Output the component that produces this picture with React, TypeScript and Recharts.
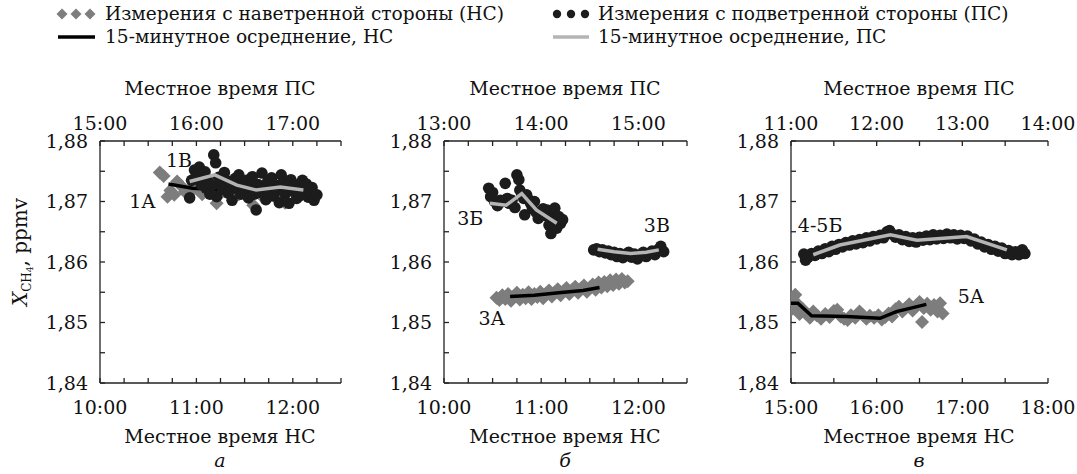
import React from 'react'
import { ScatterChart, Scatter, XAxis, YAxis, ReferenceDot } from 'recharts'

const FONT = '"DejaVu Serif", serif'
const WIND_COLOR = '#7d7d7d'
const LEE_COLOR = '#1c1c1c'
const WIND_AVG_COLOR = '#000000'
const LEE_AVG_COLOR = '#b4b4b4'

// panel a — windward (НС time) and leeward (ПС time = НС + 5 h)
const windA = [
  { t: 10.62, v: 1.8748 }, { t: 10.66, v: 1.8742 }, { t: 10.7, v: 1.8708 }, { t: 10.73, v: 1.8718 },
  { t: 10.77, v: 1.8711 }, { t: 10.8, v: 1.8733 }, { t: 10.84, v: 1.8726 }, { t: 10.88, v: 1.8716 },
  { t: 10.92, v: 1.8712 }, { t: 10.96, v: 1.8724 }, { t: 11.02, v: 1.8719 }, { t: 11.06, v: 1.8712 },
  { t: 11.12, v: 1.8728 }, { t: 11.16, v: 1.873 }, { t: 11.21, v: 1.8697 }, { t: 11.27, v: 1.8716 },
  { t: 11.35, v: 1.8722 }, { t: 11.44, v: 1.8712 }, { t: 11.52, v: 1.8718 }, { t: 11.59, v: 1.8694 },
  { t: 11.66, v: 1.8712 }, { t: 11.74, v: 1.8716 }, { t: 11.82, v: 1.8709 }, { t: 11.87, v: 1.8702 },
  { t: 11.92, v: 1.8698 },
]
const windAvgA = [
  { t: 10.71, v: 1.8729 }, { t: 10.96, v: 1.8722 }, { t: 11.21, v: 1.872 },
  { t: 11.46, v: 1.8717 }, { t: 11.71, v: 1.8715 }, { t: 11.9, v: 1.8713 },
]
const leeA = [
  { t: 15.93, v: 1.8706 }, { t: 15.95, v: 1.8735 }, { t: 15.98, v: 1.8752 }, { t: 16.01, v: 1.8745 },
  { t: 16.03, v: 1.8757 }, { t: 16.05, v: 1.8728 }, { t: 16.07, v: 1.874 }, { t: 16.09, v: 1.8749 },
  { t: 16.1, v: 1.8722 }, { t: 16.12, v: 1.8733 }, { t: 16.14, v: 1.8712 }, { t: 16.16, v: 1.8726 },
  { t: 16.18, v: 1.8777 }, { t: 16.2, v: 1.8764 }, { t: 16.21, v: 1.8708 }, { t: 16.23, v: 1.874 },
  { t: 16.25, v: 1.8731 }, { t: 16.27, v: 1.872 }, { t: 16.29, v: 1.8748 }, { t: 16.31, v: 1.8735 },
  { t: 16.33, v: 1.8714 }, { t: 16.35, v: 1.8727 }, { t: 16.37, v: 1.8702 }, { t: 16.4, v: 1.8738 },
  { t: 16.42, v: 1.8721 }, { t: 16.44, v: 1.8744 }, { t: 16.46, v: 1.8712 }, { t: 16.48, v: 1.8729 },
  { t: 16.5, v: 1.8718 }, { t: 16.52, v: 1.8735 }, { t: 16.54, v: 1.8706 }, { t: 16.56, v: 1.8724 },
  { t: 16.58, v: 1.8741 }, { t: 16.6, v: 1.8712 }, { t: 16.62, v: 1.8686 }, { t: 16.64, v: 1.8728 },
  { t: 16.66, v: 1.8715 }, { t: 16.68, v: 1.8747 }, { t: 16.7, v: 1.8722 }, { t: 16.72, v: 1.8703 },
  { t: 16.74, v: 1.8733 }, { t: 16.76, v: 1.8716 }, { t: 16.78, v: 1.8739 }, { t: 16.8, v: 1.8709 },
  { t: 16.82, v: 1.8727 }, { t: 16.84, v: 1.8719 }, { t: 16.86, v: 1.8698 }, { t: 16.88, v: 1.8744 },
  { t: 16.9, v: 1.8731 }, { t: 16.92, v: 1.8712 }, { t: 16.94, v: 1.8725 }, { t: 16.96, v: 1.8697 },
  { t: 16.98, v: 1.8736 }, { t: 17.0, v: 1.8717 }, { t: 17.02, v: 1.8728 }, { t: 17.04, v: 1.8705 },
  { t: 17.06, v: 1.8722 }, { t: 17.08, v: 1.871 }, { t: 17.1, v: 1.8735 }, { t: 17.12, v: 1.8718 },
  { t: 17.14, v: 1.8729 }, { t: 17.16, v: 1.8707 }, { t: 17.18, v: 1.8716 }, { t: 17.2, v: 1.8723 },
  { t: 17.22, v: 1.8702 }, { t: 17.25, v: 1.8711 },
]
const leeAvgA = [
  { t: 15.93, v: 1.8733 }, { t: 16.19, v: 1.8744 }, { t: 16.42, v: 1.8727 },
  { t: 16.62, v: 1.8719 }, { t: 16.87, v: 1.8724 }, { t: 17.11, v: 1.8719 },
]

// panel б — ПС time = НС + 3 h
const windB = [
  { t: 10.54, v: 1.8541 }, { t: 10.57, v: 1.8537 }, { t: 10.6, v: 1.8545 }, { t: 10.63, v: 1.8539 },
  { t: 10.66, v: 1.8547 }, { t: 10.69, v: 1.8536 }, { t: 10.72, v: 1.8543 }, { t: 10.75, v: 1.8549 },
  { t: 10.78, v: 1.8538 }, { t: 10.81, v: 1.8546 }, { t: 10.84, v: 1.854 }, { t: 10.87, v: 1.855 },
  { t: 10.9, v: 1.8539 }, { t: 10.93, v: 1.8547 }, { t: 10.96, v: 1.8542 }, { t: 10.99, v: 1.8551 },
  { t: 11.02, v: 1.854 }, { t: 11.05, v: 1.8548 }, { t: 11.08, v: 1.8553 }, { t: 11.11, v: 1.8543 },
  { t: 11.14, v: 1.855 }, { t: 11.17, v: 1.8555 }, { t: 11.2, v: 1.8545 }, { t: 11.23, v: 1.8552 },
  { t: 11.26, v: 1.8557 }, { t: 11.29, v: 1.8547 }, { t: 11.32, v: 1.8554 }, { t: 11.35, v: 1.8559 },
  { t: 11.38, v: 1.8549 }, { t: 11.41, v: 1.8556 }, { t: 11.44, v: 1.8561 }, { t: 11.47, v: 1.8551 },
  { t: 11.5, v: 1.8558 }, { t: 11.53, v: 1.8563 }, { t: 11.56, v: 1.8554 }, { t: 11.59, v: 1.8566 },
  { t: 11.62, v: 1.8558 }, { t: 11.65, v: 1.8567 }, { t: 11.68, v: 1.856 }, { t: 11.71, v: 1.857 },
  { t: 11.74, v: 1.8562 }, { t: 11.77, v: 1.8571 }, { t: 11.8, v: 1.8564 }, { t: 11.83, v: 1.8572 },
  { t: 11.86, v: 1.8566 }, { t: 11.89, v: 1.8568 },
]
const windAvgB = [
  { t: 10.68, v: 1.8543 }, { t: 10.93, v: 1.8545 }, { t: 11.18, v: 1.8549 },
  { t: 11.43, v: 1.8553 }, { t: 11.6, v: 1.8558 },
]
const leeB = [
  { t: 13.46, v: 1.8722 }, { t: 13.48, v: 1.8708 }, { t: 13.5, v: 1.8715 }, { t: 13.52, v: 1.87 },
  { t: 13.55, v: 1.8693 }, { t: 13.58, v: 1.8702 }, { t: 13.61, v: 1.87 }, { t: 13.63, v: 1.873 },
  { t: 13.65, v: 1.8705 }, { t: 13.67, v: 1.8697 }, { t: 13.7, v: 1.8702 }, { t: 13.73, v: 1.869 },
  { t: 13.75, v: 1.8744 }, { t: 13.77, v: 1.8736 }, { t: 13.78, v: 1.8719 }, { t: 13.8, v: 1.8712 },
  { t: 13.82, v: 1.8705 }, { t: 13.83, v: 1.8678 }, { t: 13.85, v: 1.8711 }, { t: 13.87, v: 1.8703 },
  { t: 13.89, v: 1.8697 }, { t: 13.91, v: 1.8688 }, { t: 13.93, v: 1.87 }, { t: 13.95, v: 1.8682 },
  { t: 13.97, v: 1.8672 }, { t: 14.0, v: 1.868 }, { t: 14.02, v: 1.8688 }, { t: 14.04, v: 1.8677 },
  { t: 14.06, v: 1.8686 }, { t: 14.08, v: 1.8661 }, { t: 14.1, v: 1.8647 }, { t: 14.12, v: 1.8675 },
  { t: 14.14, v: 1.8689 }, { t: 14.16, v: 1.8656 }, { t: 14.18, v: 1.8675 }, { t: 14.2, v: 1.8664 },
  { t: 14.22, v: 1.867 },
  { t: 14.54, v: 1.862 }, { t: 14.57, v: 1.8622 }, { t: 14.6, v: 1.8617 }, { t: 14.63, v: 1.862 },
  { t: 14.66, v: 1.8615 }, { t: 14.69, v: 1.8618 }, { t: 14.72, v: 1.8612 }, { t: 14.75, v: 1.8616 },
  { t: 14.78, v: 1.8609 }, { t: 14.81, v: 1.8614 }, { t: 14.84, v: 1.8607 }, { t: 14.87, v: 1.8612 },
  { t: 14.9, v: 1.8616 }, { t: 14.93, v: 1.8608 }, { t: 14.96, v: 1.8613 }, { t: 14.99, v: 1.8605 },
  { t: 15.02, v: 1.8611 }, { t: 15.05, v: 1.8616 }, { t: 15.08, v: 1.8609 }, { t: 15.11, v: 1.8614 },
  { t: 15.14, v: 1.8618 }, { t: 15.17, v: 1.8612 }, { t: 15.2, v: 1.862 }, { t: 15.23, v: 1.8626 },
  { t: 15.26, v: 1.8617 },
]
const leeAvgB1 = [
  { t: 13.47, v: 1.8697 }, { t: 13.64, v: 1.8694 }, { t: 13.8, v: 1.8713 },
  { t: 13.95, v: 1.8686 }, { t: 14.16, v: 1.8664 },
]
const leeAvgB2 = [
  { t: 14.58, v: 1.8621 }, { t: 14.75, v: 1.8617 }, { t: 14.92, v: 1.8614 },
  { t: 15.08, v: 1.8616 }, { t: 15.21, v: 1.862 },
]

// panel в — ПС time = НС − 4 h
const windC = [
  { t: 15.0, v: 1.8521 }, { t: 15.02, v: 1.8541 }, { t: 15.05, v: 1.8546 }, { t: 15.08, v: 1.853 },
  { t: 15.1, v: 1.8514 }, { t: 15.14, v: 1.8522 }, { t: 15.18, v: 1.8514 }, { t: 15.22, v: 1.8508 },
  { t: 15.26, v: 1.8518 }, { t: 15.3, v: 1.8512 }, { t: 15.35, v: 1.8506 }, { t: 15.4, v: 1.8514 },
  { t: 15.45, v: 1.8509 }, { t: 15.5, v: 1.8519 }, { t: 15.54, v: 1.8521 }, { t: 15.58, v: 1.851 },
  { t: 15.62, v: 1.8506 }, { t: 15.66, v: 1.8504 }, { t: 15.7, v: 1.8512 }, { t: 15.75, v: 1.8508 },
  { t: 15.8, v: 1.8518 }, { t: 15.84, v: 1.8512 }, { t: 15.88, v: 1.8506 }, { t: 15.92, v: 1.8511 },
  { t: 15.97, v: 1.8508 }, { t: 16.02, v: 1.8512 }, { t: 16.06, v: 1.8505 }, { t: 16.1, v: 1.8509 },
  { t: 16.14, v: 1.8515 }, { t: 16.18, v: 1.851 }, { t: 16.22, v: 1.8522 }, { t: 16.26, v: 1.8526 },
  { t: 16.3, v: 1.8518 }, { t: 16.34, v: 1.8524 }, { t: 16.38, v: 1.853 }, { t: 16.42, v: 1.852 },
  { t: 16.46, v: 1.8528 }, { t: 16.5, v: 1.8534 }, { t: 16.53, v: 1.8501 }, { t: 16.55, v: 1.8524 },
  { t: 16.59, v: 1.8531 }, { t: 16.63, v: 1.8521 }, { t: 16.67, v: 1.8529 }, { t: 16.71, v: 1.8518 },
  { t: 16.74, v: 1.8532 }, { t: 16.77, v: 1.8515 },
]
const windAvgC = [
  { t: 15.0, v: 1.8532 }, { t: 15.08, v: 1.8532 }, { t: 15.24, v: 1.8511 }, { t: 15.65, v: 1.851 },
  { t: 16.04, v: 1.8507 }, { t: 16.23, v: 1.8518 }, { t: 16.58, v: 1.853 },
]
const leeC = [
  { t: 11.15, v: 1.8613 }, { t: 11.17, v: 1.8603 }, { t: 11.2, v: 1.8608 }, { t: 11.24, v: 1.8614 },
  { t: 11.28, v: 1.8611 }, { t: 11.32, v: 1.8618 }, { t: 11.36, v: 1.8614 }, { t: 11.4, v: 1.8622 },
  { t: 11.44, v: 1.8617 }, { t: 11.48, v: 1.8626 }, { t: 11.52, v: 1.8621 }, { t: 11.56, v: 1.8629 },
  { t: 11.6, v: 1.8625 }, { t: 11.64, v: 1.8632 }, { t: 11.68, v: 1.8628 }, { t: 11.72, v: 1.8635 },
  { t: 11.76, v: 1.863 }, { t: 11.8, v: 1.8637 }, { t: 11.84, v: 1.8632 }, { t: 11.88, v: 1.864 },
  { t: 11.92, v: 1.8635 }, { t: 11.96, v: 1.8642 }, { t: 12.0, v: 1.8638 }, { t: 12.04, v: 1.8644 },
  { t: 12.08, v: 1.864 }, { t: 12.12, v: 1.865 }, { t: 12.15, v: 1.8652 }, { t: 12.18, v: 1.8646 },
  { t: 12.22, v: 1.8641 }, { t: 12.26, v: 1.8645 }, { t: 12.3, v: 1.8637 }, { t: 12.34, v: 1.8642 },
  { t: 12.38, v: 1.8634 }, { t: 12.42, v: 1.864 }, { t: 12.46, v: 1.8633 }, { t: 12.5, v: 1.8641 },
  { t: 12.54, v: 1.8636 }, { t: 12.58, v: 1.8643 }, { t: 12.62, v: 1.8637 }, { t: 12.66, v: 1.8645 },
  { t: 12.7, v: 1.8638 }, { t: 12.74, v: 1.8644 }, { t: 12.78, v: 1.8639 }, { t: 12.82, v: 1.8646 },
  { t: 12.86, v: 1.864 }, { t: 12.9, v: 1.8645 }, { t: 12.94, v: 1.8638 }, { t: 12.98, v: 1.8644 },
  { t: 13.02, v: 1.8639 }, { t: 13.06, v: 1.8643 }, { t: 13.1, v: 1.8635 }, { t: 13.14, v: 1.8638 },
  { t: 13.18, v: 1.863 }, { t: 13.22, v: 1.8633 }, { t: 13.26, v: 1.8625 }, { t: 13.3, v: 1.8629 },
  { t: 13.34, v: 1.8621 }, { t: 13.38, v: 1.8626 }, { t: 13.42, v: 1.8618 }, { t: 13.46, v: 1.8623 },
  { t: 13.5, v: 1.8614 }, { t: 13.54, v: 1.8619 }, { t: 13.58, v: 1.8612 }, { t: 13.62, v: 1.8617 },
  { t: 13.66, v: 1.8612 }, { t: 13.7, v: 1.862 }, { t: 13.73, v: 1.8614 },
]
const leeAvgC = [
  { t: 11.26, v: 1.8612 }, { t: 11.57, v: 1.8628 }, { t: 12.16, v: 1.8645 },
  { t: 12.47, v: 1.8636 }, { t: 13.05, v: 1.8642 }, { t: 13.52, v: 1.862 },
]

const yTicks = [1.84, 1.845, 1.85, 1.855, 1.86, 1.865, 1.87, 1.875, 1.88]
const ticksNsAB = [10, 10.25, 10.5, 10.75, 11, 11.25, 11.5, 11.75, 12, 12.25, 12.5]
const ticksPsA = [15, 15.25, 15.5, 15.75, 16, 16.25, 16.5, 16.75, 17, 17.25, 17.5]
const ticksPsB = [13, 13.25, 13.5, 13.75, 14, 14.25, 14.5, 14.75, 15, 15.25, 15.5]
const ticksNsC = [15, 15.5, 16, 16.5, 17, 17.5, 18]
const ticksPsC = [11, 11.5, 12, 12.5, 13, 13.5, 14]

const hourLabel = (v: number) => (Number.isInteger(v) ? `${v}:00` : '')
const yLabel = (v: number) =>
  Math.round(v * 1000) % 10 === 0 ? v.toFixed(2).replace('.', ',') : ''

const Diamond = (props: any) => {
  const { cx, cy } = props
  const s = 7
  return <polygon points={`${cx},${cy - s} ${cx + s},${cy} ${cx},${cy + s} ${cx - s},${cy}`} fill={WIND_COLOR} />
}
const Dot = (props: any) => <circle cx={props.cx} cy={props.cy} r={5.8} fill={LEE_COLOR} />
const NoDot = () => <g />

const axisStyle = { stroke: '#222', strokeWidth: 1.3 }
const tickStyle = { fill: '#111', fontSize: 19, fontFamily: FONT }

type Pt = { t: number; v: number }
interface PanelProps {
  left: number
  width: number
  yWidth: number
  right: number
  nsDomain: [number, number]
  psDomain: [number, number]
  nsTicks: number[]
  psTicks: number[]
  wind: Pt[]
  windAvg: Pt[][]
  lee: Pt[]
  leeAvg: Pt[][]
  labels: { t: number; v: number; text: string }[]
}

function Panel(p: PanelProps) {
  return (
    <div style={{ position: 'absolute', left: p.left, top: 70 }}>
      <ScatterChart width={p.width} height={404} margin={{ top: 0, right: p.right, bottom: 0, left: 0 }}>
        <XAxis
          xAxisId="ns" type="number" dataKey="t" domain={p.nsDomain} ticks={p.nsTicks} interval={0}
          tickFormatter={hourLabel} height={91} tickSize={-5} tickMargin={23}
          axisLine={axisStyle} tickLine={axisStyle} tick={tickStyle} allowDataOverflow
        />
        <XAxis
          xAxisId="ps" orientation="top" type="number" dataKey="t" domain={p.psDomain} ticks={p.psTicks}
          interval={0} tickFormatter={hourLabel} height={71} tickSize={-5} tickMargin={16}
          axisLine={axisStyle} tickLine={axisStyle} tick={tickStyle} allowDataOverflow
        />
        <YAxis
          type="number" dataKey="v" domain={[1.84, 1.88]} ticks={yTicks} interval={0} tickFormatter={yLabel}
          width={p.yWidth} tickSize={-5} tickMargin={17} axisLine={axisStyle} tickLine={axisStyle} tick={tickStyle}
        />
        <Scatter xAxisId="ns" data={p.wind} shape={Diamond} isAnimationActive={false} />
        {p.windAvg.map((d, i) => (
          <Scatter key={`wa${i}`} xAxisId="ns" data={d} shape={NoDot} line={{ stroke: WIND_AVG_COLOR, strokeWidth: 3.5 }} isAnimationActive={false} />
        ))}
        <Scatter xAxisId="ps" data={p.lee} shape={Dot} isAnimationActive={false} />
        {p.leeAvg.map((d, i) => (
          <Scatter key={`la${i}`} xAxisId="ps" data={d} shape={NoDot} line={{ stroke: LEE_AVG_COLOR, strokeWidth: 3.5 }} isAnimationActive={false} />
        ))}
        {p.labels.map((l) => (
          <ReferenceDot
            key={l.text} xAxisId="ns" x={l.t} y={l.v} r={0} fill="none" stroke="none"
            label={{ value: l.text, position: 'center', fill: '#111', fontSize: 19, fontFamily: FONT }}
          />
        ))}
      </ScatterChart>
    </div>
  )
}

export default function App() {
  const T = { fill: '#111', fontFamily: FONT, fontSize: 19 }
  const L = { fill: '#111', fontFamily: FONT, fontSize: 18.6 }
  return (
    <div style={{ position: 'absolute', left: 0, top: 0, width: 1077, height: 474, background: '#fff', overflow: 'hidden' }}>
      <Panel
        left={0} width={360} yWidth={100} right={19}
        nsDomain={[10, 12.5]} psDomain={[15, 17.5]} nsTicks={ticksNsAB} psTicks={ticksPsA}
        wind={windA} windAvg={[windAvgA]} lee={leeA} leeAvg={[leeAvgA]}
        labels={[{ t: 10.44, v: 1.8701, text: '1А' }, { t: 10.82, v: 1.8769, text: '1В' }]}
      />
      <Panel
        left={360} width={346} yWidth={84} right={19}
        nsDomain={[10, 12.5]} psDomain={[13, 15.5]} nsTicks={ticksNsAB} psTicks={ticksPsB}
        wind={windB} windAvg={[windAvgB]} lee={leeB} leeAvg={[leeAvgB1, leeAvgB2]}
        labels={[
          { t: 10.27, v: 1.8673, text: '3Б' },
          { t: 12.19, v: 1.8661, text: '3В' },
          { t: 10.49, v: 1.8507, text: '3А' },
        ]}
      />
      <Panel
        left={706} width={371} yWidth={85} right={29}
        nsDomain={[15, 18]} psDomain={[11, 14]} nsTicks={ticksNsC} psTicks={ticksPsC}
        wind={windC} windAvg={[windAvgC]} lee={leeC} leeAvg={[leeAvgC]}
        labels={[{ t: 15.34, v: 1.8661, text: '4-5Б' }, { t: 17.1, v: 1.8544, text: '5А' }]}
      />
      <svg width={1077} height={474} style={{ position: 'absolute', left: 0, top: 0, pointerEvents: 'none' }}>
        {/* legend */}
        {[62, 76, 90].map((x) => (
          <polygon key={x} points={`${x},${8.5} ${x + 5.5},${14} ${x},${19.5} ${x - 5.5},${14}`} fill={WIND_COLOR} />
        ))}
        <text x={105} y={20} {...L}>Измерения с наветренной стороны (НС)</text>
        <line x1={58} x2={95} y1={37} y2={37} stroke={WIND_AVG_COLOR} strokeWidth={3.5} />
        <text x={105} y={43} {...L}>15-минутное осреднение, НС</text>
        {[557, 571, 585].map((x) => (
          <circle key={x} cx={x} cy={14} r={4.2} fill={LEE_COLOR} />
        ))}
        <text x={598} y={20} {...L}>Измерения с подветренной стороны (ПС)</text>
        <line x1={553} x2={589} y1={37} y2={37} stroke={LEE_AVG_COLOR} strokeWidth={3.5} />
        <text x={598} y={43} {...L}>15-минутное осреднение, ПС</text>
        {/* axis titles */}
        {[220, 565, 919].map((x) => (
          <text key={`t${x}`} x={x} y={95} textAnchor="middle" {...T}>Местное время ПС</text>
        ))}
        {[220, 565, 919].map((x) => (
          <text key={`b${x}`} x={x} y={443} textAnchor="middle" {...T}>Местное время НС</text>
        ))}
        {['а', 'б', 'в'].map((s, i) => (
          <text key={s} x={[220, 565, 919][i]} y={467} textAnchor="middle" {...T} fontStyle="italic">{s}</text>
        ))}
        <text transform="translate(27,252) rotate(-90)" textAnchor="middle" {...T} fontSize={20}>
          <tspan fontStyle="italic">X</tspan>
          <tspan fontSize={12} dy={4}>CH</tspan>
          <tspan fontSize={9} dy={2}>4</tspan>
          <tspan dy={-6}>, ppmv</tspan>
        </text>
      </svg>
    </div>
  )
}
